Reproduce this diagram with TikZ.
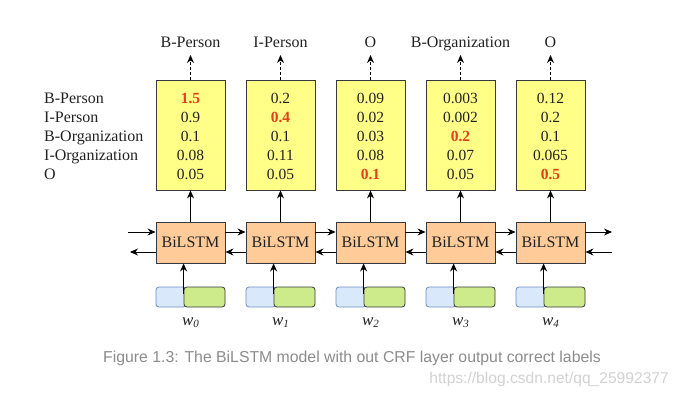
\documentclass[tikz,border=0pt]{standalone}
\usepackage{fontspec}
\setmainfont{Liberation Serif}
\newfontfamily\capfont{Liberation Sans}
\usetikzlibrary{arrows.meta}
\definecolor{ybox}{HTML}{FFFF88}
\definecolor{pbox}{HTML}{FFCC99}
\definecolor{bbox}{HTML}{DAE8FC}
\definecolor{bstroke}{HTML}{6C8EBF}
\definecolor{gbox}{HTML}{CDEB8B}
\definecolor{dstroke}{HTML}{36393D}
\definecolor{txt}{HTML}{222222}
\definecolor{hired}{HTML}{E0401A}
\definecolor{capgray}{HTML}{8C8C8C}
\definecolor{wmgray}{HTML}{D2D2D2}
\tikzset{
  ybx/.style={draw=dstroke, fill=ybox, line width=0.9pt, minimum width=69pt, minimum height=110pt, inner sep=0pt},
  lstm/.style={draw=dstroke, fill=pbox, line width=0.9pt, minimum width=69pt, minimum height=41pt, inner sep=0pt, font=\fontsize{16}{16}\selectfont, text=txt},
  val/.style={font=\fontsize{15.5}{16}\selectfont, text=txt, inner sep=0pt, anchor=base},
  hi/.style={val, text=hired, font=\fontsize{15.5}{16}\selectfont\bfseries},
  lab/.style={font=\fontsize{16}{16}\selectfont, text=txt, inner sep=0pt, anchor=base},
  embb/.style={draw=bstroke, fill=bbox, line width=0.8pt, rounded corners=3pt, minimum width=30pt, minimum height=20pt, inner sep=0pt},
  embg/.style={draw=dstroke, fill=gbox, line width=0.8pt, rounded corners=3pt, minimum width=41pt, minimum height=20pt, inner sep=0pt},
  arr/.style={-{Stealth[length=8pt,width=7pt]}, line width=1pt, draw=black},
  darr/.style={arr, dash pattern=on 3pt off 2pt},
}
\begin{document}
\begin{tikzpicture}[x=1pt,y=-1pt]
\useasboundingbox (0,0) rectangle (680,396);
\fill[white] (0,0) rectangle (680,396);
% row labels
\node[lab, anchor=base west] (r0) at (44,103.2) {B-Person};
\node[lab, anchor=base west] (r1) at (44,122.2) {I-Person};
\node[lab, anchor=base west] (r2) at (44,141.7) {B-Organization};
\node[lab, anchor=base west] (r3) at (44,160.7) {I-Organization};
\node[lab, anchor=base west] (r4) at (44,179.2) {O};
% columns
\foreach \i/\top in {0/B-Person, 1/I-Person, 2/O, 3/B-Organization, 4/O}{
  \pgfmathsetmacro{\cx}{190.5+90*\i}
  \node[ybx] (y\i) at (\cx,135) {};
  \node[lstm] (b\i) at (\cx,242.5) {BiLSTM};
  \node[lab] (t\i) at (\cx,47.5) {\top};
  \coordinate (ta\i) at (\cx,55);
  \draw[darr] (y\i.north) -- (ta\i);
  \draw[arr] (b\i.north) -- (y\i.south);
  \node[embb] (eb\i) at (\cx-19.5,297) {};
  \node[embg] (eg\i) at (\cx+14,297) {};
  \draw[arr] ([yshift=3pt]eg\i.west) -- (eg\i.west |- b\i.south);
  \node[lab, font=\fontsize{17}{17}\selectfont\itshape] (w\i) at (\cx,325) {w\raisebox{-0.35ex}{\fontsize{11}{11}\selectfont\itshape\i}};
}
% values
\foreach \i/\lst in {0/{{1.5}/h,0.9/n,0.1/n,0.08/n,0.05/n},
                     1/{0.2/n,{0.4}/h,0.1/n,0.11/n,0.05/n},
                     2/{0.09/n,0.02/n,0.03/n,0.08/n,{0.1}/h},
                     3/{0.003/n,0.002/n,{0.2}/h,0.07/n,0.05/n},
                     4/{0.12/n,0.2/n,0.1/n,0.065/n,{0.5}/h}}{
  \foreach \v/\k [count=\r from 0] in \lst {
    \pgfmathsetmacro{\cx}{190.5+90*\i}
    \pgfmathsetmacro{\cy}{103.2+19*\r}
    \if\k h
      \node[hi] (v\i\r) at (\cx,\cy) {\v};
    \else
      \node[val] (v\i\r) at (\cx,\cy) {\v};
    \fi
  }
}
% recurrent arrows
\coordinate (L1) at (128,232);
\coordinate (L2) at (130,252);
\coordinate (R1) at (612,232);
\coordinate (R2s) at (612,252);
\draw[arr] (L1) -- (L1 -| b0.west);
\draw[arr] (b0.west |- L2) -- (L2);
\foreach \i/\j in {0/1,1/2,2/3,3/4}{
  \draw[arr] ([yshift=10.5pt]b\i.east) -- ([yshift=10.5pt]b\j.west);
  \draw[arr] ([yshift=-9.5pt]b\j.west) -- ([yshift=-9.5pt]b\i.east);
}
\draw[arr] ([yshift=10.5pt]b4.east) -- (R1);
\draw[arr] (R2s) -- (R2s -| b4.east);
% caption
\node[font=\capfont\fontsize{15.8}{16}\selectfont, text=capgray, inner sep=0pt, anchor=base west] (cap) at (103,362) {Figure 1.3: The BiLSTM model with out CRF layer output correct labels};
\node[font=\capfont\fontsize{15.6}{16}\selectfont, text=wmgray, inner sep=0pt, anchor=base east] (wm) at (669,383) {https://blog.csdn.net/qq\_25992377};
\end{tikzpicture}
\end{document}
